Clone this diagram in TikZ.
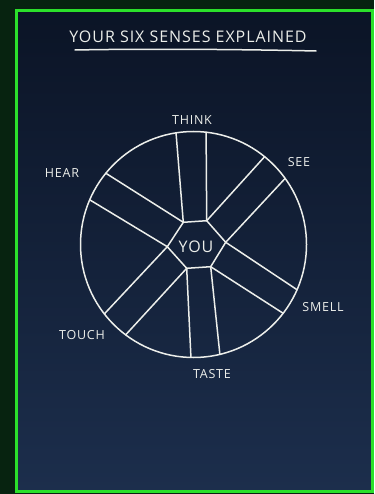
\documentclass[tikz,border=0pt]{standalone}
\usepackage{fontspec}
\newfontfamily\chalkfont[LetterSpace=6]{Open Sans}
\usetikzlibrary{calc}
\definecolor{outside}{HTML}{072310}
\definecolor{boardtop}{HTML}{0B1426}
\definecolor{boardlow}{HTML}{1C2E4C}
\definecolor{frame}{HTML}{2BE02B}
\definecolor{chalk}{HTML}{ECEEEA}
\begin{document}
\begin{tikzpicture}[x=1pt, y=-1pt,
    chalkline/.style={draw=chalk, line width=1.5pt, line cap=round, line join=round},
    sense/.style={text=chalk, inner sep=0pt, font=\chalkfont\fontsize{12.5}{12.5}\selectfont}
  ]
    \useasboundingbox (0,0) rectangle (374,494);
    \fill[outside] (0,0) rectangle (374,494);
    \shade[top color=boardtop, bottom color=boardlow] (16.5,10.5) rectangle (372.5,491);
    \draw[frame, line width=3pt] (16.5,10.5) rectangle (372.5,491);
    \node[text=chalk, inner sep=0pt, font=\chalkfont\fontsize{16}{16}\selectfont] (title) at (188,37) {YOUR SIX SENSES EXPLAINED};
    \draw[chalkline] (75,50) .. controls (150,48.5) and (250,49.5) .. (316,51);
    \coordinate (hub) at (193.5,244.5);
    \node[circle, chalkline, minimum size=226pt, inner sep=0pt, outer sep=0pt] (wheel) at (hub) {};
    \coordinate (htl) at (183.3,222.3);
    \coordinate (htr) at (206.7,220.7);
    \coordinate (hr) at (225.7,242.3);
    \coordinate (hbr) at (210.7,266.7);
    \coordinate (hbl) at (186.7,268.3);
    \coordinate (hl) at (167.3,246.7);
    \draw[chalkline] (htl) -- (htr) -- (hr) -- (hbr) -- (hbl) -- (hl) -- cycle;
    \node[text=chalk, inner sep=0pt, font=\chalkfont\fontsize{16}{16}\selectfont] (you) at (196,246.5) {YOU};
    \foreach \h/\a in {htl/98.9, htr/83.6, htr/51, hr/35.8, hr/-23.6, hbr/-37.5,
                       hbr/-76.5, hbl/-91.3, hbl/-126.9, hl/-142.1, hl/156.7, htl/140.9}
      \draw[chalkline] (\h) -- ($(hub)+(-\a:113)$);
    \node[sense] (think) at (192,120) {THINK};
    \node[sense] (see) at (299,162) {SEE};
    \node[sense] (smell) at (323,307) {SMELL};
    \node[sense] (taste) at (212,374) {TASTE};
    \node[sense] (touch) at (82,335) {TOUCH};
    \node[sense] (hear) at (62,173) {HEAR};
  \end{tikzpicture}
\end{document}
